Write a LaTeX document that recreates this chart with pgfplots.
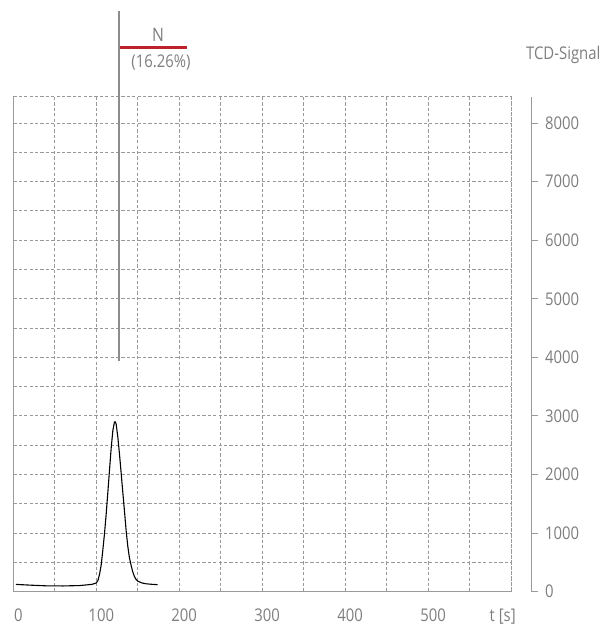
\documentclass[border=0pt]{standalone}
\usepackage{pgfplots}
\pgfplotsset{compat=1.18}
\usepackage{fontspec}
\setmainfont{Open Sans}[FakeStretch=0.85]
\definecolor{txtgray}{HTML}{7E7E7E}
\definecolor{gridgray}{HTML}{999999}
\definecolor{framegray}{HTML}{9A9A9A}
\definecolor{markgray}{HTML}{8C8C8C}
\definecolor{nred}{HTML}{C0202C}

\begin{document}
\begin{tikzpicture}[font=\fontsize{17.5bp}{20bp}\selectfont]
\useasboundingbox (-13.3bp,-32.3bp) rectangle (591.7bp,591.7bp);
\begin{axis}[
  at={(0,0)}, anchor=south west,
  scale only axis, width=497.7bp, height=495bp,
  xmin=0, xmax=600, ymin=0, ymax=8450,
  axis line style={draw=none},
  clip=false,
  xtick={0,50,...,600},
  xticklabels={0,,100,,200,,300,,400,,500,,},
  ytick={0,500,...,8000},
  yticklabels={,,,,,,,,,,,,,,,,},
  major tick length=0pt,
  grid=major,
  major grid style={gridgray, dash pattern=on 3.2bp off 2.2bp, line width=0.95bp},
  /pgf/number format/assume math mode=true,
  xticklabel style={txtgray, anchor=base, yshift=-29.3bp, xshift=5bp, font=\fontsize{17.5bp}{20bp}\selectfont},
]
\addplot[black, line width=1.1bp] coordinates {
(3,125) (20,112) (40,100) (60,98) (80,105) (95,125) (100,150) (102,190)
(104,300) (106,460) (108,720) (110,1000) (112,1330) (114,1700) (116,2080)
(118,2450) (120,2750) (122,2900) (123,2900) (124,2860) (126,2640) (128,2350)
(130,2030) (132,1700) (134,1380) (136,1050) (138,780) (140,580) (142,450)
(144,340) (146,260) (148,210) (150,180) (155,150) (160,135) (168,125) (174,120)
};
% frame
\draw[framegray, line width=1.2bp] (rel axis cs:0,1) -- (rel axis cs:0,0) -- (rel axis cs:1,0);
\draw[gridgray, dash pattern=on 3.2bp off 2.2bp, line width=0.95bp] (rel axis cs:0,1) -- (rel axis cs:1,1) -- (rel axis cs:1,0);
% annotation
\draw[markgray, line width=2bp] (axis cs:127.4,3930) -- (axis cs:127.4,9906);
\draw[nred, line width=3.3bp] (axis cs:128.6,9291) -- (axis cs:208.9,9291);
\node[txtgray, font=\fontsize{18.5bp}{21bp}\selectfont] at (axis cs:174.4,9508) {N};
\node[txtgray] at (axis cs:178,9025) {(16.26\%)};
\node[txtgray] at (axis cs:663,9166) {TCD-Signal};
\node[txtgray, anchor=base, yshift=-29.3bp] at (axis cs:590,0) {t [s]};
\end{axis}
\begin{axis}[
  at={(20.7bp,0)}, anchor=south west,
  scale only axis, width=497.7bp, height=495bp,
  xmin=0, xmax=600, ymin=0, ymax=8450,
  hide x axis,
  axis y line*=right,
  axis line style={framegray, line width=1bp, -},
  ytick={0,1000,...,8000},
  yticklabels={0,1000,2000,3000,4000,5000,6000,7000,8000},
  tick align=outside,
  major tick length=6bp,
  every tick/.style={framegray, line width=1bp},
  /pgf/number format/assume math mode=true,
  yticklabel style={txtgray, anchor=west, xshift=4bp, font=\fontsize{17.5bp}{20bp}\selectfont},
]
\addplot[draw=none] coordinates {(0,0) (600,8000)};
\end{axis}
\end{tikzpicture}
\end{document}
